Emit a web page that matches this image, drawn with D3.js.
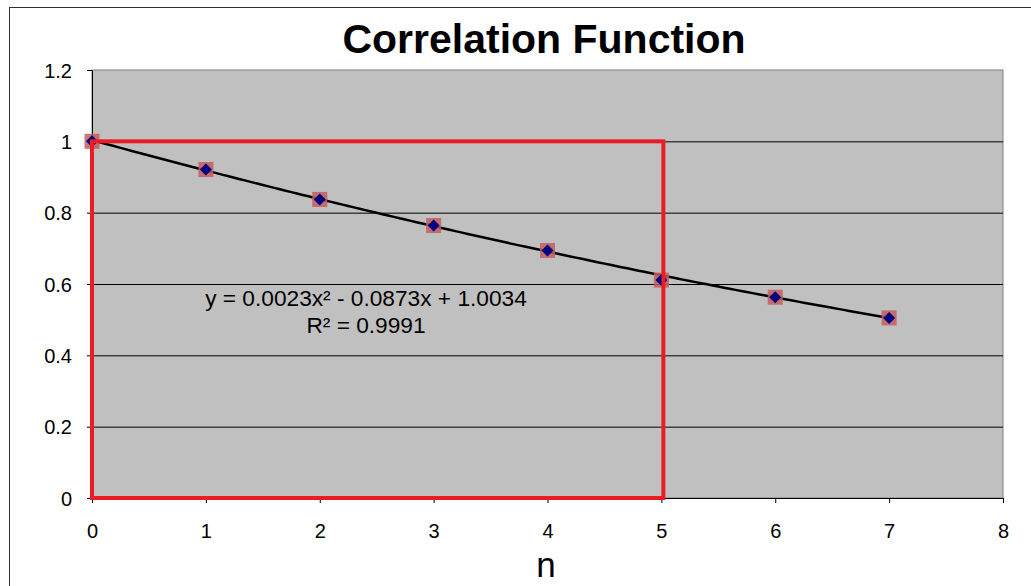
<!DOCTYPE html>
<html>
<head>
<meta charset="utf-8">
<script src="https://cdn.jsdelivr.net/npm/d3@7/dist/d3.min.js"></script>
<style>
  body { margin: 0; background: #fff; }
  text { font-family: Arial, "Liberation Sans", sans-serif; }
</style>
</head>
<body>
<svg id="chart" width="1031" height="586"></svg>
<script>
// data
const nValues = [0, 1, 2, 3, 4, 5, 6, 7]
const corrValues = [1.0, 0.921, 0.837, 0.764, 0.694, 0.611, 0.563, 0.505]
const xTicks = [0, 1, 2, 3, 4, 5, 6, 7, 8]
const yTicks = [0, 0.2, 0.4, 0.6, 0.8, 1, 1.2]
const fitCoef = [1.0034, -0.0873, 0.0023]   // c0 + c1 x + c2 x^2
const boxCorner = [5, 1]                    // highlighted region (0,0)-(5,1)
const eqLines = ['y = 0.0023x² - 0.0873x + 1.0034', 'R² = 0.9991']

const svg = d3.select('#chart')
const plot = {left: 92, right: 1003, top: 70, bottom: 498}

// chart frame
svg.append('rect')
  .attr('x', 9.5).attr('y', 7.5)
  .attr('width', 1040).attr('height', 600)
  .attr('fill', '#fff').attr('stroke', '#333').attr('stroke-width', 1)

const x = d3.scaleLinear().domain([0, 8]).range([plot.left, plot.right])
const y = d3.scaleLinear().domain([0, 1.2]).range([plot.bottom, plot.top])

svg.append('rect')
  .attr('x', plot.left).attr('y', plot.top)
  .attr('width', plot.right - plot.left).attr('height', plot.bottom - plot.top)
  .attr('fill', '#c0c0c0').attr('stroke', '#808080')

// gridlines
svg.append('g').selectAll('line')
  .data(yTicks.filter(d => d > 0 && d < 1.2))
  .join('line')
  .attr('x1', plot.left).attr('x2', plot.right)
  .attr('y1', d => y(d) + 0.5).attr('y2', d => y(d) + 0.5)
  .attr('stroke', '#000').attr('stroke-width', 1)

// axes
const xAxis = svg.append('g')
  .attr('transform', `translate(0,${plot.bottom})`)
  .call(d3.axisBottom(x).tickValues(xTicks).tickSize(5).tickSizeOuter(0).tickFormat(d3.format('d')))
const yAxis = svg.append('g')
  .attr('transform', `translate(${plot.left},0)`)
  .call(d3.axisLeft(y).tickValues(yTicks).tickSize(5).tickSizeOuter(0).tickFormat(d => d))
;[xAxis, yAxis].forEach(a => {
  a.selectAll('path, line').attr('stroke', '#000')
  a.selectAll('text').attr('font-size', 20).attr('fill', '#000')
    .attr('font-family', 'Arial, "Liberation Sans", sans-serif')
})
xAxis.selectAll('text').attr('dy', null).attr('y', 40)
yAxis.selectAll('text').attr('x', -20).attr('dy', '0.35em')

// trendline
const fit = t => fitCoef[0] + fitCoef[1] * t + fitCoef[2] * t * t
const fitPts = d3.range(0, 7.001, 0.05)
svg.append('path')
  .datum(fitPts)
  .attr('fill', 'none').attr('stroke', '#000').attr('stroke-width', 2.5)
  .attr('d', d3.line().x(d => x(d)).y(d => y(fit(d))))

// markers: square behind, diamond on top
const pts = nValues.map((n, i) => ({n, v: corrValues[i]}))
svg.append('g').selectAll('rect')
  .data(pts).join('rect')
  .attr('x', d => x(d.n) - 7.5).attr('y', d => y(d.v) - 7.5)
  .attr('width', 15).attr('height', 15)
  .attr('fill', '#c45c5c').attr('opacity', 0.85)
svg.append('g').selectAll('path')
  .data(pts).join('path')
  .attr('transform', d => `translate(${x(d.n)},${y(d.v)})`)
  .attr('d', 'M0,-6L6,0L0,6L-6,0Z')
  .attr('fill', '#000080')

// highlight box
svg.append('rect')
  .attr('x', x(0)).attr('y', y(boxCorner[1]))
  .attr('width', x(boxCorner[0]) - x(0) + 2).attr('height', y(0) - y(boxCorner[1]))
  .attr('fill', 'none').attr('stroke', '#ec1c24').attr('stroke-width', 4)

// equation
svg.append('g').selectAll('text')
  .data(eqLines).join('text')
  .attr('x', 366).attr('y', (d, i) => 306 + i * 27)
  .attr('text-anchor', 'middle').attr('font-size', 22.7).attr('fill', '#000')
  .text(d => d)

// title and axis label
svg.append('text')
  .attr('x', 544).attr('y', 53)
  .attr('text-anchor', 'middle').attr('font-size', 41).attr('font-weight', 'bold')
  .text('Correlation Function')
svg.append('text')
  .attr('x', 546).attr('y', 577)
  .attr('text-anchor', 'middle').attr('font-size', 35)
  .text('n')
</script>
</body>
</html>
